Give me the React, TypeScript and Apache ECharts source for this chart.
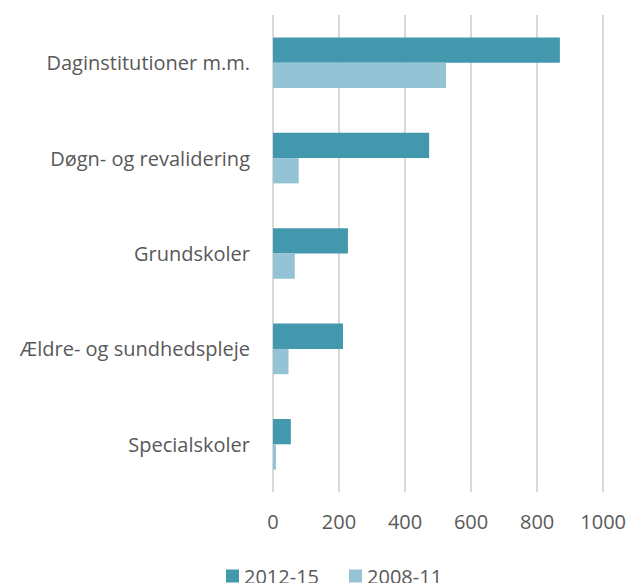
import React, { useEffect, useRef } from "react";
import * as echarts from "echarts";

const categories = [
  "Daginstitutioner m.m.",
  "Døgn- og revalidering",
  "Grundskoler",
  "Ældre- og sundhedspleje",
  "Specialskoler",
];
const series2012_15 = [869, 473, 227, 212, 54];
const series2008_11 = [524, 78, 66, 47, 9];
const xTicks = [0, 200, 400, 600, 800, 1000];

export default function App() {
  const ref = useRef<HTMLDivElement>(null);
  useEffect(() => {
    if (!ref.current) return;
    const chart = echarts.init(ref.current, undefined, { renderer: "svg" });
    const font = "'Open Sans', sans-serif";
    chart.setOption({
      animation: false,
      grid: { left: 273, right: 25, top: 15, bottom: 91, containLabel: false },
      legend: {
        left: 221,
        top: 561,
        itemWidth: 13,
        itemHeight: 13,
        itemGap: 30,
        icon: "rect",
        textStyle: { color: "#595959", fontSize: 20, fontFamily: font },
        data: ["2012-15", "2008-11"],
      },
      xAxis: {
        type: "value",
        min: xTicks[0],
        max: xTicks[xTicks.length - 1],
        interval: 200,
        axisLine: { show: false },
        axisTick: { show: false },
        splitLine: { show: true, lineStyle: { color: "#d9d9d9", width: 2 } },
        axisLabel: {
          color: "#595959",
          fontSize: 20,
          fontFamily: font,
          margin: 19,
          formatter: (v: number) => String(v),
        },
      },
      yAxis: {
        type: "category",
        inverse: true,
        data: categories,
        axisLine: { show: false },
        axisTick: { show: false },
        axisLabel: { color: "#595959", fontSize: 20, fontFamily: font, margin: 23 },
      },
      series: [
        {
          name: "2012-15",
          type: "bar",
          data: series2012_15,
          barGap: "0%",
          barCategoryGap: "47%",
          itemStyle: { color: "#4398ae" },
        },
        {
          name: "2008-11",
          type: "bar",
          data: series2008_11,
          barGap: "0%",
          barCategoryGap: "47%",
          itemStyle: { color: "#94c3d5" },
        },
      ],
    });
    return () => chart.dispose();
  }, []);
  return (
    <div
      ref={ref}
      style={{ position: "absolute", left: 0, top: 0, width: 629, height: 583 }}
    />
  );
}
